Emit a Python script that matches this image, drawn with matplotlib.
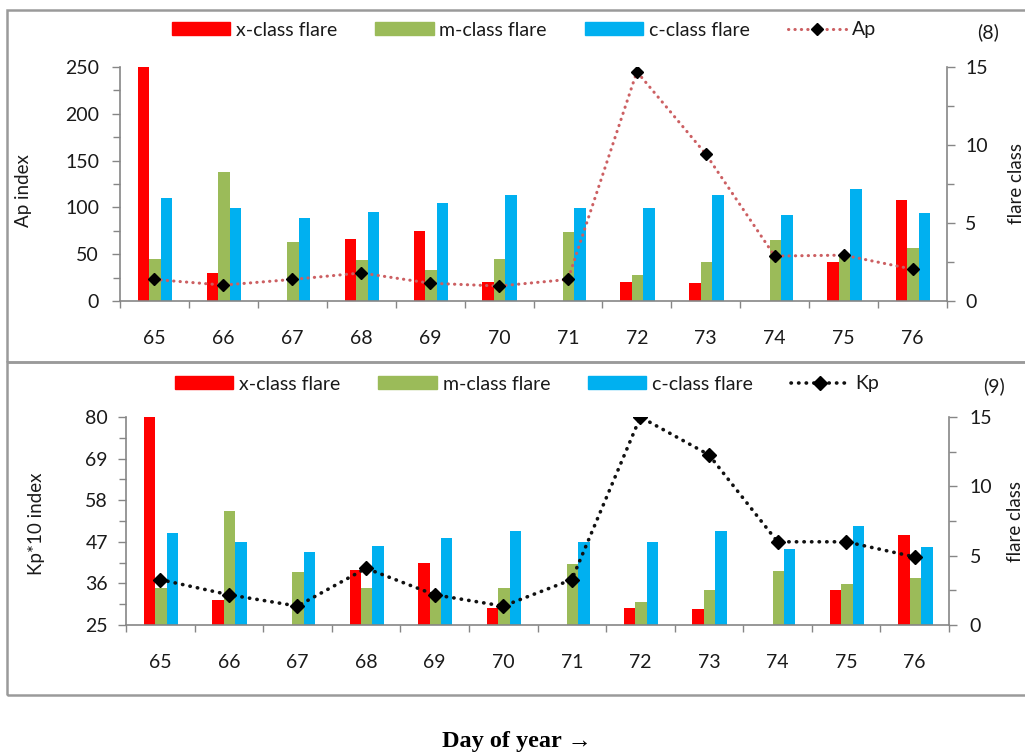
import matplotlib.pyplot as plt
from matplotlib.patches import Patch, Rectangle
from matplotlib.lines import Line2D
from matplotlib.ticker import FixedLocator, NullFormatter
import numpy as np

days = ["65", "66", "67", "68", "69", "70", "71", "72", "73", "74", "75", "76"]

# flare class values (right axis, same in both panels)
x_flare = [15.0, 1.8, 0, 4.0, 4.5, 1.25, 0, 1.25, 1.15, 0, 2.5, 6.5]
m_flare = [2.7, 8.25, 3.8, 2.65, 2.0, 2.7, 4.4, 1.65, 2.5, 3.9, 2.95, 3.4]
c_flare = [6.6, 5.95, 5.3, 5.7, 6.3, 6.8, 5.95, 5.95, 6.8, 5.5, 7.15, 5.65]

# geomagnetic indices (left axis)
ap_index = [23, 17, 23, 30, 19, 16, 23, 245, 157, 48, 49, 34]
kp10_index = [37, 33, 30, 40, 33, 30, 37, 80, 70, 47, 47, 43]

ap_ticks = [0, 50, 100, 150, 200, 250]
kp_ticks = [25, 36, 47, 58, 69, 80]
flare_ticks = [0, 5, 10, 15]

RED = "#ff0000"
GREEN = "#9bbb59"
BLUE = "#00b0f0"
AXIS_GRAY = "#868686"
TXT = "#1a1a1a"
DOTS = (0, (0.1, 2.0))

plt.rcParams["font.family"] = ["Lato", "DejaVu Sans"]
plt.rcParams["font.size"] = 14

fig = plt.figure(figsize=(10.25, 7.53), dpi=100)


def px_box(left, top, right, bottom):
    W, H = 1025, 753
    return [left / W, 1 - bottom / H, (right - left) / W, (bottom - top) / H]


def panel(rect, line_vals, line_color, line_lw, ms, yticks, ylabel, ylabel_pos,
          rlabel_pos, tag, tag_xy, leg_xy, line_name, lpad, rpad):
    ax = fig.add_axes(rect)
    tw = ax.twinx()
    ax.set_zorder(tw.get_zorder() + 1)
    ax.patch.set_visible(False)

    x = np.arange(len(days))
    w = 0.167
    tw.bar(x - w + 0.01, x_flare, w, color=RED)
    tw.bar(x + 0.01, m_flare, w, color=GREEN)
    tw.bar(x + w + 0.01, c_flare, w, color=BLUE)
    tw.set_ylim(0, 15)
    tw.yaxis.set_major_locator(FixedLocator(flare_ticks))
    tw.yaxis.set_minor_locator(FixedLocator(np.arange(0, 15.1, 2.5)))

    ax.plot(x, line_vals, color=line_color, lw=line_lw, linestyle=DOTS,
            dash_capstyle="round", marker="D", ms=ms, mfc="black", mec="black")
    ax.set_ylim(yticks[0], yticks[-1])
    step = yticks[1] - yticks[0]
    ax.yaxis.set_major_locator(FixedLocator(yticks))
    ax.yaxis.set_minor_locator(FixedLocator(np.arange(yticks[0], yticks[-1] + 0.1, step / 2)))
    ax.set_xlim(-0.5, len(days) - 0.5)

    # category boundaries as ticks, labels at centers
    ax.xaxis.set_major_locator(FixedLocator(np.arange(-0.5, len(days), 1.0)))
    ax.xaxis.set_major_formatter(NullFormatter())
    ax.set_xticks(x, days, minor=True)
    ax.tick_params(axis="x", which="major", direction="out", length=5,
                   color=AXIS_GRAY, width=1)
    ax.tick_params(axis="x", which="minor", length=0, pad=21, labelcolor=TXT,
                   labelsize=14)

    for a in (ax, tw):
        for s in a.spines.values():
            s.set_visible(False)
    ax.spines["left"].set_visible(True)
    ax.spines["bottom"].set_visible(True)
    tw.spines["right"].set_visible(True)
    for s in (ax.spines["left"], ax.spines["bottom"], tw.spines["right"]):
        s.set_color(AXIS_GRAY)
        s.set_linewidth(1.2)

    ax.tick_params(axis="y", which="both", direction="out", length=6,
                   color=AXIS_GRAY, width=1, pad=lpad, labelcolor=TXT, labelsize=14)
    ax.tick_params(axis="y", which="minor", length=5)
    tw.tick_params(axis="y", which="both", direction="out", length=6,
                   color=AXIS_GRAY, width=1, pad=rpad, labelcolor=TXT, labelsize=14)
    tw.tick_params(axis="y", which="minor", length=5)

    ax.set_ylabel(ylabel, fontsize=13.5, color=TXT)
    ax.yaxis.set_label_coords(*ylabel_pos)
    tw.set_ylabel("flare class", fontsize=13.5, color=TXT)
    tw.yaxis.set_label_coords(*rlabel_pos)

    fig.text(tag_xy[0] / 1025, 1 - tag_xy[1] / 753, tag, ha="center",
             va="center", fontsize=14, color=TXT)

    handles = [
        Patch(color=RED, label="x-class flare"),
        Patch(color=GREEN, label="m-class flare"),
        Patch(color=BLUE, label="c-class flare"),
        Line2D([], [], color=line_color, lw=line_lw, linestyle=DOTS,
               dash_capstyle="round", marker="D", ms=ms, mfc="black",
               mec="black", label=line_name),
    ]
    fig.legend(handles=handles, ncol=4, loc="center",
               bbox_to_anchor=(leg_xy[0] / 1025, 1 - leg_xy[1] / 753),
               frameon=False, fontsize=14, handlelength=3.0, handleheight=0.6,
               handletextpad=0.3, columnspacing=1.95, numpoints=1,
               labelcolor=TXT)
    return ax, tw


panel(px_box(120, 67, 947, 301), ap_index, "#cc5f62", 2.2, 6.5,
      ap_ticks, "Ap index", (-0.106, 0.47), (1.074, 0.50),
      "(8)", (988, 32), (524, 30), "Ap", 9, 7)

panel(px_box(126, 417, 949, 625), kp10_index, "#111111", 2.6, 7,
      kp_ticks, "Kp*10 index", (-0.098, 0.485), (1.07, 0.50),
      "(9)", (994, 386), (527, 384), "Kp", 7, 9)

# panel frames (extend past the right edge like the cropped original)
for top, bottom in [(10, 362), (362, 695)]:
    r = px_box(7, top, 1040, bottom)
    fig.patches.append(Rectangle((r[0], r[1]), r[2], r[3], transform=fig.transFigure,
                                 fill=False, edgecolor="#9a9a9a", lw=1.8))

fig.text(517 / 1025, 1 - 742 / 753, "Day of year \u2192", ha="center", va="center",
         fontsize=17.5, fontweight="bold", family=["Liberation Serif", "DejaVu Serif"])

plt.savefig("out.png", dpi=100)
